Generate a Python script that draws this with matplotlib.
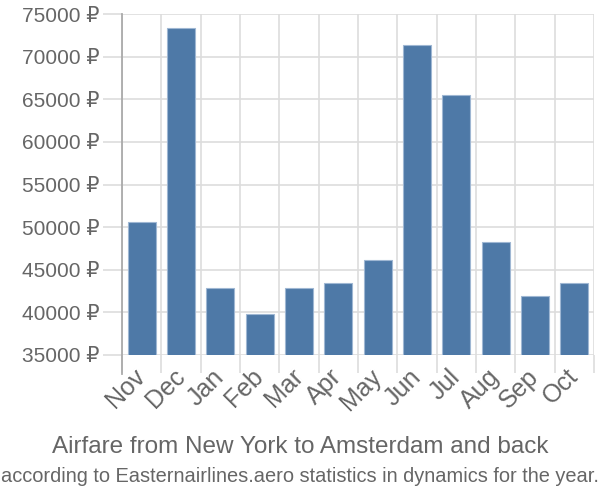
import matplotlib
matplotlib.use("Agg")
import matplotlib.pyplot as plt
from matplotlib.ticker import FuncFormatter, FixedLocator
import numpy as np

months = ["Nov", "Dec", "Jan", "Feb", "Mar", "Apr", "May", "Jun", "Jul", "Aug", "Sep", "Oct"]
prices = [50600, 73400, 42850, 39800, 42850, 43400, 46100, 71400, 65550, 48200, 41950, 43400]
yticks = [35000, 40000, 45000, 50000, 55000, 60000, 65000, 70000, 75000]

title = "Airfare from New York to Amsterdam and back"
subtitle = "according to Easternairlines.aero statistics in dynamics for the year."

plt.rcParams['font.family'] = ['Liberation Sans', 'DejaVu Sans']
text_color = "#666666"
grid_color = "#dddddd"

fig = plt.figure(figsize=(6, 5), dpi=100)
ax = fig.add_axes([122/600, 1-355/500, (594-122)/600, (355-14)/500])

x = np.arange(len(months))
ax.bar(x, prices, width=0.72, color="#4e79a7", edgecolor="#9fb7d3", linewidth=0.8, zorder=3)

ax.set_xlim(-0.5, len(months) - 0.5)
ax.set_ylim(yticks[0], yticks[-1])

ax.set_yticks(yticks)
ax.yaxis.set_major_formatter(FuncFormatter(lambda v, p: f"{int(v)} ₽"))
ax.tick_params(axis='y', length=14, width=1.2, color=grid_color, labelsize=15, labelcolor=text_color, pad=2)

ax.set_xticks(x)
ax.set_xticklabels(months, rotation=45, ha='right', va='center', rotation_mode='anchor')
ax.tick_params(axis='x', which='major', length=0, labelsize=18, labelcolor=text_color, pad=13)
ax.xaxis.set_minor_locator(FixedLocator(np.arange(-0.5, len(months), 1.0)))
ax.tick_params(axis='x', which='minor', length=13, width=1.2, color=grid_color)

ax.grid(True, axis='y', which='major', color=grid_color, linewidth=1.2, zorder=0)
ax.grid(True, axis='x', which='minor', color=grid_color, linewidth=1.2, zorder=0)
ax.set_axisbelow(True)

for s in ["top", "right", "bottom"]:
    ax.spines[s].set_visible(False)
ax.spines["left"].set_visible(False)
ax.axvline(-0.5, ymin=-0.055, ymax=1, color="#aaaaaa", linewidth=1.3, clip_on=False, zorder=4)

fig.text(0.5, 1-447/500, title, ha='center', va='center', fontsize=17.5, color=text_color)
fig.text(0.5, 1-477/500, subtitle, ha='center', va='center', fontsize=14.4, color=text_color)

fig.savefig("out.png", dpi=100)
